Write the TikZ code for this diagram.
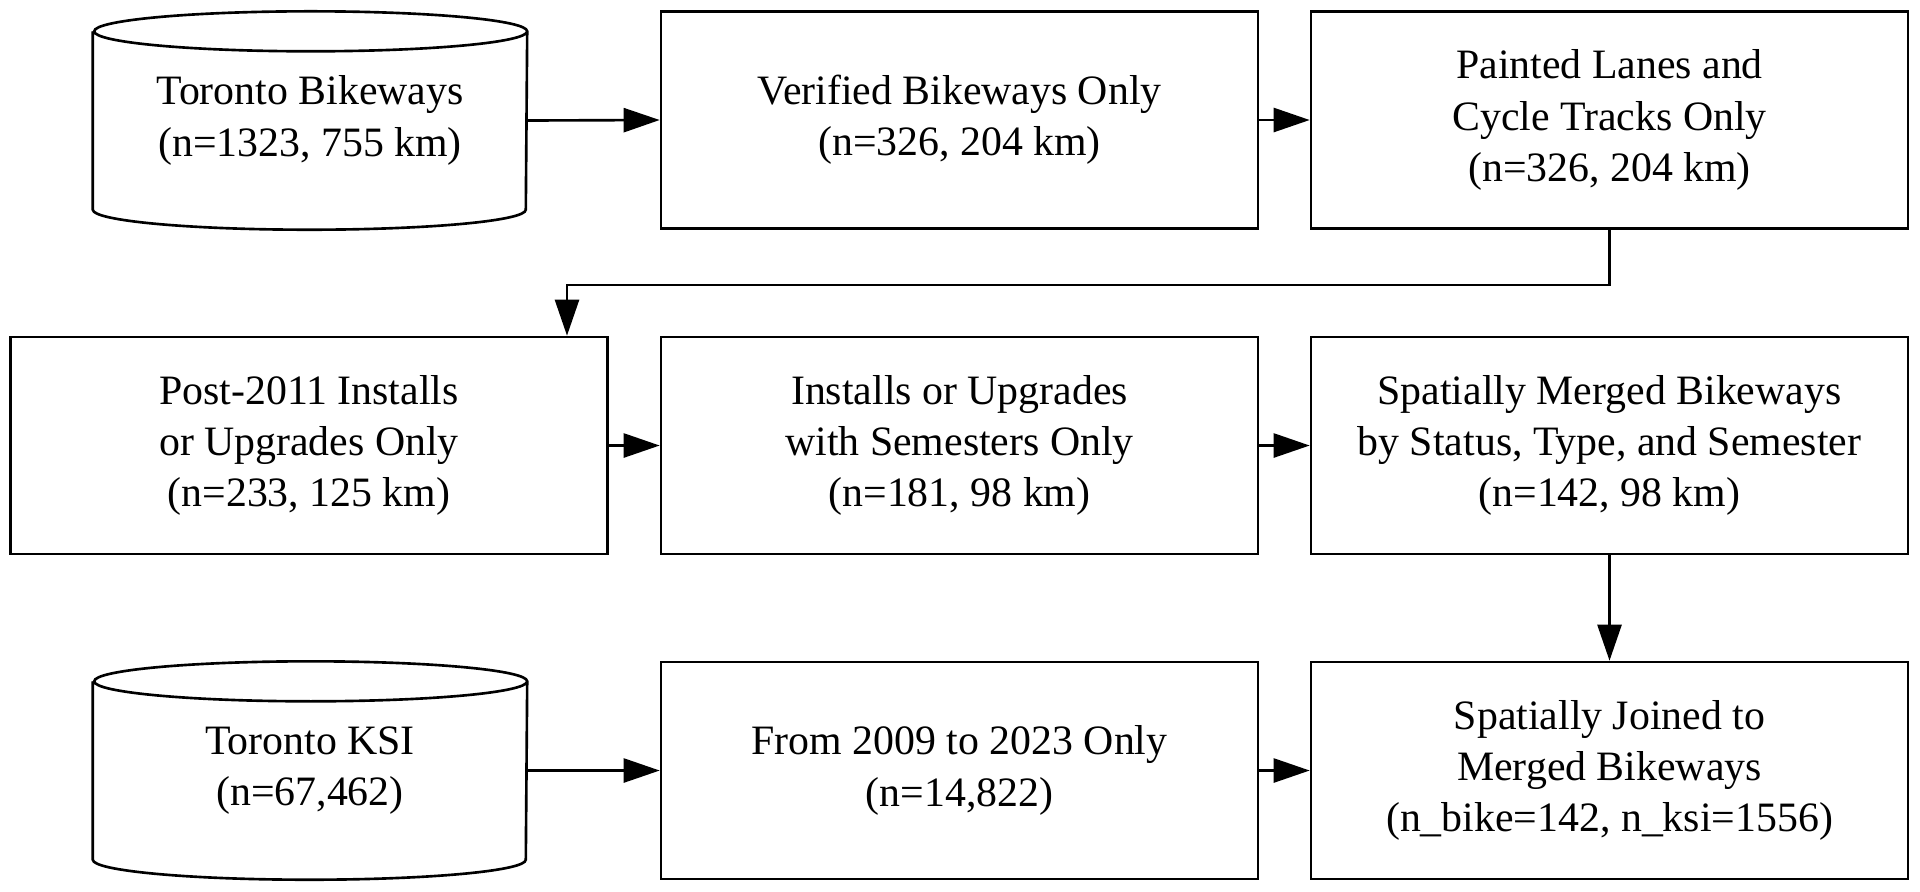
\documentclass[tikz,border=0pt]{standalone}
\usepackage{fontspec}
\setmainfont{Liberation Serif}
\usetikzlibrary{arrows.meta}

\tikzset{
    stage/.style={draw, line width=0.75pt, minimum width=5.97cm, minimum height=2.17cm,
        align=center, inner sep=0pt, font=\fontsize{11.9}{14.6}\selectfont},
    drum/.style={minimum width=4.33cm, minimum height=2.17cm,
        align=center, inner sep=0pt, font=\fontsize{11.9}{14.6}\selectfont},
    flow/.style={-{Triangle[length=3.6mm, width=2.4mm]}, line width=0.75pt},
}

% cilindro desenhado em volta de um no
\newcommand{\DrawDrum}[1]{
    \draw[line width=0.75pt]
        ([yshift=-2mm]#1.north west) -- ([yshift=2mm]#1.south west)
        arc[start angle=180, end angle=360, x radius=2.165cm, y radius=2mm]
        -- ([yshift=-2mm]#1.north east)
        arc[start angle=0, end angle=180, x radius=2.165cm, y radius=2mm]
        arc[start angle=180, end angle=360, x radius=2.165cm, y radius=2mm];
}

\begin{document}
\begin{tikzpicture}
    \useasboundingbox (0,0) rectangle (19.2,-8.91);

    % linha 1
    \node[drum] (bike) at (3.10,-1.205) {Toronto Bikeways\\(n=1323, 755 km)};
    \DrawDrum{bike}
    \node[stage] (verified) at (9.595,-1.20) {Verified Bikeways Only\\(n=326, 204 km)};
    \node[stage] (painted) at (16.095,-1.20) {Painted Lanes and\\Cycle Tracks Only\\(n=326, 204 km)};

    % linha 2
    \node[stage] (post) at (3.09,-4.455) {Post-2011 Installs\\or Upgrades Only\\(n=233, 125 km)};
    \node[stage] (installs) at (9.595,-4.455) {Installs or Upgrades\\with Semesters Only\\(n=181, 98 km)};
    \node[stage] (merged) at (16.095,-4.455) {Spatially Merged Bikeways\\by Status, Type, and Semester\\(n=142, 98 km)};

    % linha 3
    \node[drum] (ksi) at (3.10,-7.705) {Toronto KSI\\(n=67,462)};
    \DrawDrum{ksi}
    \node[stage] (years) at (9.595,-7.705) {From 2009 to 2023 Only\\(n=14,822)};
    \node[stage] (joined) at (16.095,-7.705) {Spatially Joined to\\Merged Bikeways\\(n\_bike=142, n\_ksi=1556)};

    \draw[flow] (bike.east) -- (verified.west);
    \draw[flow] (verified.east) -- (painted.west);
    \draw[flow] (painted.south) -- ++(0,-0.55) -| ([xshift=2.58cm]post.north);
    \draw[flow] (post.east) -- (installs.west);
    \draw[flow] (installs.east) -- (merged.west);
    \draw[flow] (merged.south) -- (joined.north);
    \draw[flow] (ksi.east) -- (years.west);
    \draw[flow] (years.east) -- (joined.west);

\end{tikzpicture}
\end{document}
